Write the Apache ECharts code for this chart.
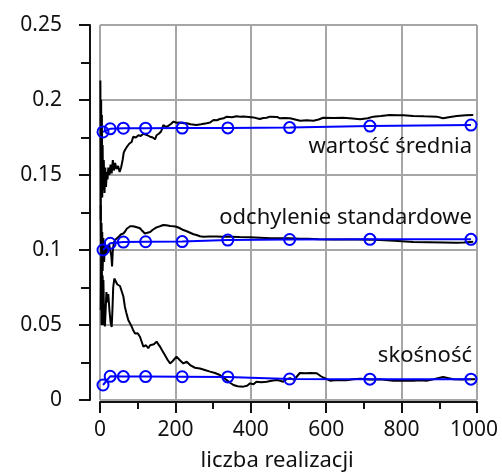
<!DOCTYPE html>
<html>
<head>
<meta charset="utf-8">
<script src="https://cdn.jsdelivr.net/npm/echarts@6/dist/echarts.min.js"></script>
<style>
  html, body { margin: 0; padding: 0; background: #fff; }
  #chart { width: 502px; height: 475px; }
</style>
</head>
<body>
<div id="chart"></div>
<script>
// Sample sizes at which the theoretical estimates are marked
const theoryN = [8, 27, 62, 121, 218, 339, 503, 716, 984];
const theoryMean = [0.1787, 0.1808, 0.1812, 0.1812, 0.1813, 0.1814, 0.1816, 0.1826, 0.1833];
const theoryStd = [0.1000, 0.1045, 0.1053, 0.1055, 0.1056, 0.1066, 0.1070, 0.1071, 0.1071];
const theorySkew = [0.0100, 0.0158, 0.0156, 0.0156, 0.0155, 0.0154, 0.0140, 0.0139, 0.0139];

// Running statistics over the simulated realizations: [n, value]
const runningMean = [
  [1, 0.213], [2, 0.120], [3, 0.200], [4, 0.150], [5, 0.190], [6, 0.135], [7, 0.170], [8, 0.140],
  [10, 0.160], [12, 0.138], [14, 0.155], [16, 0.142], [18, 0.152], [20, 0.147], [22, 0.155],
  [25, 0.150], [28, 0.157], [31, 0.151], [34, 0.160], [37, 0.153], [40, 0.158], [44, 0.154],
  [48, 0.156], [52, 0.152], [56, 0.155], [60, 0.160], [63, 0.165], [67, 0.167], [72, 0.169],
  [78, 0.171], [84, 0.172], [88, 0.1755], [95, 0.175], [102, 0.1765], [108, 0.176], [115, 0.1775],
  [120, 0.1778], [126, 0.1765], [133, 0.1755], [140, 0.175], [146, 0.1738], [150, 0.1765],
  [156, 0.1775], [162, 0.179], [168, 0.1833], [175, 0.182], [181, 0.1828], [188, 0.184],
  [195, 0.1856], [203, 0.1848], [212, 0.185], [222, 0.1845], [230, 0.1845], [240, 0.1838],
  [256, 0.1833], [268, 0.1838], [283, 0.1845], [292, 0.185], [301, 0.1867], [310, 0.1865],
  [318, 0.1873], [328, 0.1878], [336, 0.1889], [350, 0.1885], [362, 0.1892], [372, 0.1889],
  [380, 0.189], [395, 0.1887], [407, 0.1884], [416, 0.1878], [424, 0.1873], [433, 0.188],
  [442, 0.1882], [451, 0.1889], [470, 0.1887], [477, 0.1878], [490, 0.188], [504, 0.1878],
  [515, 0.1872], [531, 0.1862], [548, 0.1865], [566, 0.1862], [580, 0.187], [592, 0.1882],
  [620, 0.188], [645, 0.1882], [670, 0.1876], [690, 0.1871], [710, 0.1878], [725, 0.1889],
  [745, 0.1893], [769, 0.19], [790, 0.1898], [805, 0.1898], [831, 0.1893], [860, 0.1891],
  [893, 0.1889], [910, 0.1878], [925, 0.1885], [946, 0.1893], [970, 0.1898], [990, 0.19]
];

const runningStd = [
  [2, 0.130], [3, 0.095], [4, 0.118], [5, 0.090], [6, 0.112], [7, 0.086], [9, 0.108], [11, 0.092],
  [13, 0.106], [15, 0.097], [18, 0.103], [21, 0.098], [24, 0.104], [27, 0.100], [30, 0.096],
  [32, 0.089], [34, 0.100], [37, 0.105], [40, 0.1067], [45, 0.108], [50, 0.109], [56, 0.1105],
  [62, 0.111], [67, 0.1125], [71, 0.1142], [76, 0.1155], [80, 0.1158], [84, 0.1167], [88, 0.1158],
  [93, 0.1145], [100, 0.115], [106, 0.1145], [112, 0.1128], [119, 0.111], [126, 0.1115],
  [133, 0.112], [140, 0.1135], [150, 0.1151], [159, 0.1158], [168, 0.1167], [176, 0.1165],
  [186, 0.116], [195, 0.1158], [203, 0.1155], [212, 0.1145], [221, 0.1133], [230, 0.1125],
  [239, 0.1115], [248, 0.1105], [256, 0.11], [265, 0.1092], [274, 0.1089], [290, 0.109],
  [309, 0.109], [325, 0.1089], [345, 0.1089], [370, 0.1087], [398, 0.1085], [425, 0.1082],
  [451, 0.1078], [480, 0.1078], [504, 0.1078], [530, 0.1075], [552, 0.1075], [580, 0.1072],
  [620, 0.107], [680, 0.107], [730, 0.1068], [780, 0.1062], [831, 0.1053], [870, 0.1052],
  [910, 0.105], [945, 0.1048], [965, 0.105], [990, 0.1055]
];

const runningSkew = [
  [2, 0.060], [3, 0.095], [4, 0.050], [5, 0.088], [6, 0.055], [7, 0.083], [8, 0.050], [9, 0.080],
  [11, 0.053], [13, 0.049], [15, 0.060], [17, 0.072], [20, 0.065], [22, 0.0707], [25, 0.060],
  [28, 0.052], [31, 0.0487], [33, 0.060], [35, 0.075], [38, 0.081], [42, 0.079], [46, 0.077],
  [49, 0.078], [53, 0.076], [58, 0.075], [62, 0.069], [66, 0.0622], [70, 0.058], [75, 0.0533],
  [80, 0.052], [84, 0.049], [88, 0.0465], [93, 0.0444], [100, 0.0445], [106, 0.0422], [110, 0.041],
  [115, 0.0356], [122, 0.0365], [128, 0.0345], [133, 0.0365], [137, 0.0378], [143, 0.0372],
  [150, 0.0389], [155, 0.038], [159, 0.0356], [165, 0.033], [172, 0.030], [180, 0.0265],
  [186, 0.0244], [193, 0.026], [203, 0.0289], [212, 0.0265], [221, 0.0244], [230, 0.0255],
  [239, 0.0233], [252, 0.0215], [265, 0.021], [278, 0.020], [292, 0.0189], [305, 0.018],
  [318, 0.0167], [327, 0.015], [336, 0.0133], [345, 0.0115], [354, 0.010], [365, 0.0092],
  [380, 0.0089], [390, 0.0095], [398, 0.0111], [407, 0.0105], [415, 0.0122], [428, 0.0118],
  [442, 0.0122], [455, 0.0128], [469, 0.0133], [478, 0.0128], [486, 0.0122], [495, 0.0138],
  [504, 0.0145], [515, 0.0135], [530, 0.018], [545, 0.0178], [560, 0.018], [575, 0.0178],
  [585, 0.016], [592, 0.015], [610, 0.0129], [630, 0.0133], [654, 0.0131], [672, 0.0138],
  [690, 0.0141], [715, 0.0136], [743, 0.0138], [760, 0.0133], [778, 0.0129], [800, 0.0128],
  [831, 0.0129], [850, 0.0131], [866, 0.0129], [885, 0.0138], [910, 0.0153], [925, 0.0145],
  [937, 0.0138], [960, 0.0136], [981, 0.0138], [995, 0.0139]
];

// Curve captions, anchored in data coordinates: [text, n at right edge, value at middle]
const captions = [
  ['wartość średnia', 1000, 0.1687],
  ['odchylenie standardowe', 1000, 0.1213],
  ['skośność', 1000, 0.0293]
];
const xTitle = 'liczba realizacji';

const FONT = 'Noto Sans';
const INK = '#111';
const GRID = '#a6a6a6';
const BLUE = '#0000ff';

const chart = echarts.init(document.getElementById('chart'), null, { renderer: 'canvas' });

function zip(xs, ys) { return xs.map((x, i) => [x, ys[i]]); }

function blackSeries(data) {
  return {
    type: 'line', data: data, symbol: 'none', silent: true,
    lineStyle: { color: '#000', width: 2 }, z: 2
  };
}
function blueSeries(values) {
  return {
    type: 'line', data: zip(theoryN, values), symbol: 'circle', symbolSize: 11,
    showSymbol: true, silent: true,
    lineStyle: { color: BLUE, width: 2 },
    itemStyle: { color: 'rgba(255,255,255,0)', borderColor: BLUE, borderWidth: 2 },
    z: 3
  };
}

const option = {
  animation: false,
  backgroundColor: '#fff',
  grid: { left: 100, right: 25, top: 25, bottom: 75, show: false, containLabel: false, outerBoundsMode: 'none' },
  xAxis: {
    type: 'value', min: 0, max: 1000, interval: 200, offset: 2,
    axisLine: { show: true, onZero: false, lineStyle: { color: INK, width: 2 } },
    axisTick: { show: true, inside: false, length: 11, lineStyle: { color: INK, width: 2 } },
    minorTick: { show: true, splitNumber: 2, length: 7, lineStyle: { color: INK, width: 2 } },
    splitLine: { show: true, lineStyle: { color: GRID, width: 2 } },
    axisLabel: {
      margin: 18, color: INK, fontFamily: FONT, fontSize: 21,
      // the last label is nudged left a little so it stays inside the canvas
      formatter: (v) => (v === 1000 ? '{edge|' + v + '}' : String(v)),
      rich: { edge: { fontFamily: FONT, fontSize: 21, color: INK, padding: [0, 6, 0, 0] } }
    }
  },
  yAxis: {
    type: 'value', min: 0, max: 0.25, interval: 0.05, offset: 10,
    axisLine: { show: true, onZero: false, lineStyle: { color: INK, width: 2 } },
    axisTick: { show: true, inside: false, length: 11, lineStyle: { color: INK, width: 2 } },
    minorTick: { show: true, splitNumber: 2, length: 9, lineStyle: { color: INK, width: 2 } },
    splitLine: { show: true, lineStyle: { color: GRID, width: 2 } },
    axisLabel: { margin: 28, color: INK, fontFamily: FONT, fontSize: 21 }
  },
  series: [
    blackSeries(runningMean),
    blackSeries(runningStd),
    blackSeries(runningSkew),
    blueSeries(theoryMean),
    blueSeries(theoryStd),
    blueSeries(theorySkew)
  ]
};
chart.setOption(option);

// Captions and axis title placed through the chart's own coordinate system
const graphics = captions.map(([text, n, v]) => {
  const p = chart.convertToPixel({ gridIndex: 0 }, [n, v]);
  return {
    type: 'text', x: p[0] - 5, y: p[1], silent: true, z: 10,
    style: { text: text, fill: INK, font: '22px "' + FONT + '"', align: 'right', verticalAlign: 'middle' }
  };
});
const tPos = chart.convertToPixel({ gridIndex: 0 }, [470, 0]);
graphics.push({
  type: 'text', x: tPos[0], y: tPos[1] + 61, silent: true, z: 10,
  style: { text: xTitle, fill: INK, font: '22px "' + FONT + '"', align: 'center', verticalAlign: 'middle' }
});
chart.setOption({ graphic: graphics });
</script>
</body>
</html>
